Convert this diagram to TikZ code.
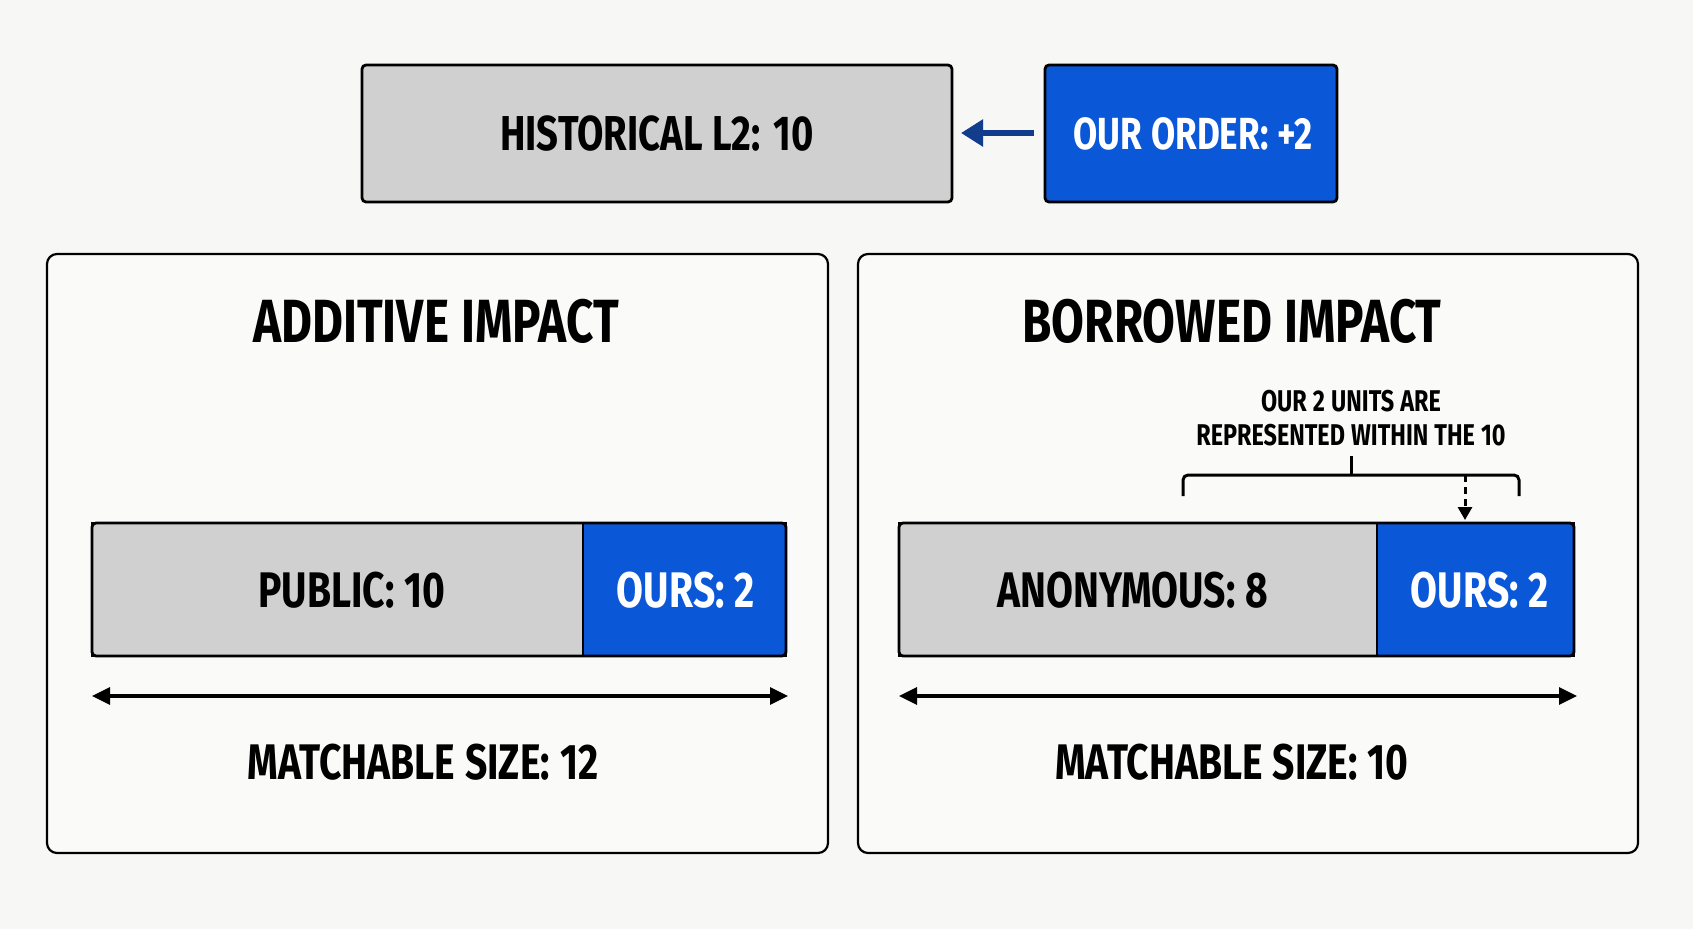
\documentclass[tikz,border=0pt]{standalone}
\usepackage{fontspec}
\setmainfont{Fira Sans}[FakeStretch=0.78,WordSpace=1.1,BoldFont={Fira Sans Bold},BoldFeatures={FakeStretch=0.78,WordSpace=1.1}]
\usetikzlibrary{arrows.meta}
\definecolor{bg}{HTML}{F7F7F5}
\definecolor{panelbg}{HTML}{FAFAF9}
\definecolor{grayfill}{HTML}{D0D0D0}
\definecolor{ourblue}{HTML}{0A57D8}
\definecolor{arrowblue}{HTML}{123C8C}
\tikzset{
  box/.style={draw=black, line width=2.8pt, rounded corners=4pt, inner sep=0pt},
  panel/.style={draw=black, line width=2.2pt, rounded corners=10pt, fill=panelbg},
  graybox/.style={box, fill=grayfill},
  bluebox/.style={box, fill=ourblue},
  lbl/.style={font=\bfseries\fontsize{50}{56}\selectfont, text=black},
  wlbl/.style={font=\bfseries\fontsize{50}{56}\selectfont, text=white},
  toplbl/.style={font=\bfseries\fontsize{49}{56}\selectfont},
  title/.style={font=\bfseries\fontsize{61}{68}\selectfont, text=black},
  note/.style={font=\bfseries\fontsize{30}{34}\selectfont, text=black, align=center},
  dim/.style={line width=3.2pt, {Triangle[length=18pt,width=17pt]}-{Triangle[length=18pt,width=17pt]}},
}
\begin{document}
\begin{tikzpicture}[x=1pt,y=-1pt]
\fill[bg] (0,0) rectangle (1693,929);
\useasboundingbox (0,0) rectangle (1693,929);
% top
\draw[graybox] (362,65) rectangle (952,202);
\node[toplbl, text=black] (hist) at (657,134) {HISTORICAL L2: 10};
\draw[bluebox] (1045,65) rectangle (1337,202);
\node[toplbl, text=white, font=\bfseries\fontsize{45}{52}\selectfont] (ord) at (1193,134) {OUR ORDER: +2};
\draw[arrowblue, line width=6pt, -{Triangle[length=22pt,width=26pt]}] (1034,133) -- (961,133);
% panels
\draw[panel] (47,254) rectangle (828,853);
\draw[panel] (858,254) rectangle (1638,853);
\node[title] (t1) at (436,321) {ADDITIVE IMPACT};
\node[title] (t2) at (1232,321) {BORROWED IMPACT};
% left bar
\draw[box, fill=grayfill, sharp corners] (92,523) rectangle (583,656);
\draw[box, fill=ourblue, sharp corners] (583,523) rectangle (786,656);
\draw[line width=2.8pt, rounded corners=4pt] (92,523) rectangle (786,656);
\node[lbl] (pub) at (352,590) {PUBLIC: 10};
\node[wlbl] (ours1) at (686,590) {OURS: 2};
\coordinate (la) at (92,696);
\coordinate (lb) at (788,696);
\draw[dim] (la) -- (lb);
\node[lbl] (m1) at (423,762) {MATCHABLE SIZE: 12};
% right bar
\draw[box, fill=grayfill, sharp corners] (899,523) rectangle (1377,656);
\draw[box, fill=ourblue, sharp corners] (1377,523) rectangle (1574,656);
\draw[line width=2.8pt, rounded corners=4pt] (899,523) rectangle (1574,656);
\node[lbl] (anon) at (1133,590) {ANONYMOUS: 8};
\node[wlbl] (ours2) at (1480,590) {OURS: 2};
\coordinate (ra) at (899,696);
\coordinate (rb) at (1577,696);
\draw[dim] (ra) -- (rb);
\node[lbl] (m2) at (1232,762) {MATCHABLE SIZE: 10};
% annotation
\node[note] (n) at (1351,418) {OUR 2 UNITS ARE\\REPRESENTED WITHIN THE 10};
\draw[line width=3pt, rounded corners=5pt] (1183,496) -- (1183,475) -- (1519,475) -- (1519,496);
\draw[line width=3pt] (1351,475) -- (1351,456);
\coordinate (dtop) at (1465,475);
\coordinate (dbot) at (1465,520);
\draw[line width=3pt, dash pattern=on 7pt off 5pt, -{Triangle[length=13pt,width=14pt]}] (dtop) -- (dbot);
\end{tikzpicture}
\end{document}
